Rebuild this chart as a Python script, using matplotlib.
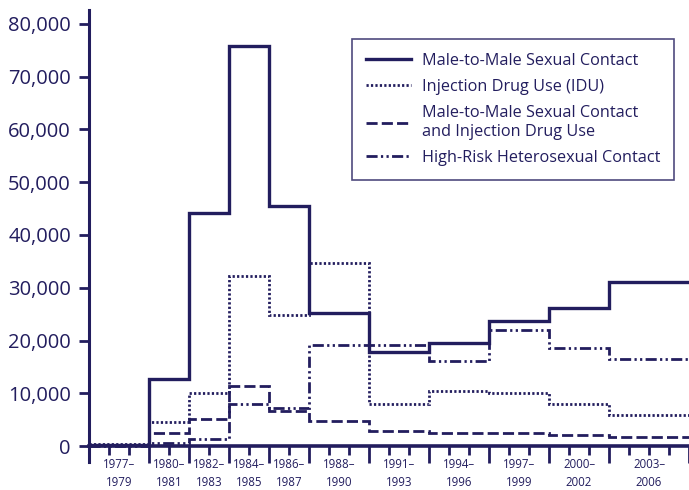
import matplotlib.pyplot as plt
from matplotlib.ticker import FuncFormatter, FixedLocator
from matplotlib.transforms import blended_transform_factory

NAVY = '#221d5e'
plt.rcParams['font.family'] = ['Open Sans', 'DejaVu Sans']

# period edges (years) and labels
edges = [1977, 1980, 1982, 1984, 1986, 1988, 1991, 1994, 1997, 2000, 2003, 2007]
period_labels = ['1977–\n1979', '1980–\n1981', '1982–\n1983', '1984–\n1985', '1986–\n1987',
                 '1988–\n1990', '1991–\n1993', '1994–\n1996', '1997–\n1999', '2000–\n2002',
                 '2003–\n2006']

msm = [200, 12700, 44100, 75800, 45500, 25200, 17800, 19500, 23700, 26200, 31100]
idu = [300, 4500, 10000, 32200, 24800, 34600, 8000, 10400, 10000, 8000, 5900]
msm_idu = [100, 2500, 5100, 11400, 6600, 4800, 2800, 2500, 2400, 2100, 1700]
hetero = [0, 500, 1300, 8000, 7300, 19100, 19100, 16100, 22000, 18600, 16500]

fig = plt.figure(figsize=(6.89, 4.90), dpi=100)
ax = fig.add_axes([0.1292, 0.0571, 0.8708, 0.9225])

ax.stairs(msm, edges, baseline=None, color=NAVY, lw=2.4, label='Male-to-Male Sexual Contact')
ax.stairs(idu, edges, baseline=None, color=NAVY, lw=2.0, linestyle=(0, (0.8, 0.8)),
          label='Injection Drug Use (IDU)')
ax.stairs(msm_idu, edges, baseline=None, color=NAVY, lw=2.0, linestyle=(0, (4, 1.5)),
          label='Male-to-Male Sexual Contact\nand Injection Drug Use')
ax.stairs(hetero, edges, baseline=None, color=NAVY, lw=2.0,
          linestyle=(0, (4, 1.2, 0.8, 1.2, 0.8, 1.2)), label='High-Risk Heterosexual Contact')

ax.set_xlim(1977, 2007)
ax.set_ylim(-3033, 82650)

for s in ['top', 'right']:
    ax.spines[s].set_visible(False)
ax.spines['left'].set_color(NAVY)
ax.spines['left'].set_linewidth(2.2)
ax.spines['bottom'].set_color(NAVY)
ax.spines['bottom'].set_linewidth(2.6)
ax.spines['bottom'].set_position(('data', 0))

ax.set_yticks(range(0, 80001, 10000))
ax.yaxis.set_major_formatter(FuncFormatter(lambda v, p: f'{int(v):,}'))
ax.tick_params(axis='y', direction='out', length=7, width=2, color=NAVY,
               labelcolor=NAVY, labelsize=14.5, pad=6)

ax.xaxis.set_major_locator(FixedLocator(edges))
ax.xaxis.set_minor_locator(FixedLocator(list(range(1977, 2008))))
ax.tick_params(axis='x', which='major', direction='out', length=12, width=2, color=NAVY,
               labelbottom=False)
ax.tick_params(axis='x', which='minor', direction='out', length=6.5, width=2, color=NAVY)

trans = blended_transform_factory(ax.transData, ax.transAxes)
for a, b, lab in zip(edges[:-1], edges[1:], period_labels):
    ax.text((a + b) / 2, 0.008, lab, transform=trans, ha='center', va='top',
            fontsize=8.3, color=NAVY, linespacing=1.42)

leg = ax.legend(loc='upper right', bbox_to_anchor=(0.975, 0.936), borderaxespad=0,
                fontsize=11.7, frameon=True, fancybox=False, handlelength=2.8,
                labelspacing=0.63, borderpad=0.85, handletextpad=0.65, labelcolor=NAVY)
leg.get_frame().set_edgecolor(NAVY)
leg.get_frame().set_linewidth(1.2)

fig.savefig('out.png', dpi=100)
